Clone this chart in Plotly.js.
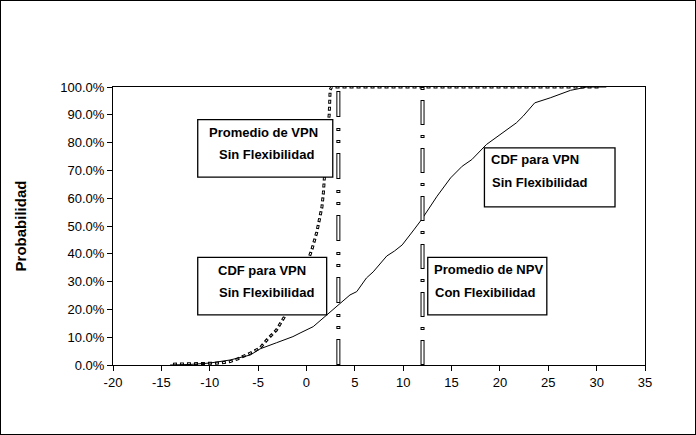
<!DOCTYPE html>
<html>
<head>
<meta charset="utf-8">
<script src="https://cdn.plot.ly/plotly-3.0.1.min.js"></script>
<style>
  html, body { margin: 0; padding: 0; background: #fff; }
  #wrap { position: relative; width: 696px; height: 435px; }
  #chart { position: absolute; left: 0; top: 0; width: 696px; height: 435px; }
  #frame { position: absolute; left: 0; top: 0; width: 696px; height: 435px;
           box-sizing: border-box; border: 1px solid #000; pointer-events: none; }
</style>
</head>
<body>
<div id="wrap">
  <div id="chart"></div>
  <div id="frame"></div>
</div>
<script>
// Cumulative distribution of VPN without flexibility (dotted curve)
const cdfSinFlexX = [-13.8, -12.0, -10.3, -8.9, -7.9, -7.1, -5.8, -4.8, -4.0, -3.1, -2.3, -1.3, -0.7, 0.0,
                     0.55, 1.07, 1.34, 1.6, 1.75, 1.85, 2.0, 2.2, 2.35, 2.4, 2.45, 2.6, 30.5];
const cdfSinFlexP = [0.003, 0.004, 0.005, 0.007, 0.012, 0.022, 0.043, 0.061, 0.094, 0.126, 0.172, 0.25, 0.30, 0.36,
                     0.414, 0.478, 0.52, 0.568, 0.619, 0.66, 0.75, 0.85, 0.90, 0.943, 0.99, 1.0, 1.0];

// Cumulative distribution of NPV with flexibility (solid curve)
const cdfConFlexX = [-14.1, -12.0, -10.0, -7.9, -5.8, -4.8, -3.1, -1.4, -0.66, 0.7, 2.1, 3.3, 4.5, 5.2, 6.2, 6.9,
                     7.6, 8.3, 9.1, 9.9, 11.1, 11.9, 13.5, 14.9, 16.1, 17.1, 18.6, 20.0, 21.7, 22.4, 23.6, 25.2, 27.3, 29.0, 31.0];
const cdfConFlexP = [0.0, 0.002, 0.007, 0.018, 0.036, 0.058, 0.08, 0.102, 0.115, 0.138, 0.18, 0.216, 0.252, 0.264, 0.313, 0.335,
                     0.365, 0.392, 0.41, 0.432, 0.486, 0.523, 0.607, 0.673, 0.715, 0.739, 0.793, 0.829, 0.871, 0.895, 0.943, 0.961, 0.988, 1.0, 1.0];

// Mean values
const meanVpnSinFlex = 3.3;
const meanNpvConFlex = 12.0;

// Axis ticks
const xTicks = [-20, -15, -10, -5, 0, 5, 10, 15, 20, 25, 30, 35];
const yTicks = [0, 0.1, 0.2, 0.3, 0.4, 0.5, 0.6, 0.7, 0.8, 0.9, 1.0];

// Text boxes: [line 1, line 2]
const boxTexts = [
  ['Promedio de VPN', 'Sin Flexibilidad'],
  ['CDF para VPN', 'Sin Flexibilidad'],
  ['CDF para VPN', 'Sin Flexibilidad'],
  ['Promedio de NPV', 'Con Flexibilidad']
];

const FONT = 'Arial, "Liberation Sans", sans-serif';

// A hollow dashed line: black outer stroke with a white inner stroke on top.
function hollowLine(x, y, outerW, innerW, outerDash, innerDash) {
  return [
    { x: x, y: y, type: 'scatter', mode: 'lines', hoverinfo: 'skip', cliponaxis: false,
      line: { color: '#000', width: outerW, dash: outerDash } },
    { x: x, y: y, type: 'scatter', mode: 'lines', hoverinfo: 'skip', cliponaxis: false,
      line: { color: '#fff', width: innerW, dash: innerDash } }
  ];
}

const traces = [];
// dotted CDF, without flexibility
traces.push(...hollowLine(cdfSinFlexX, cdfSinFlexP, 3, 1, '4px,3px', '0px,1px,2px,4px'));
// solid CDF, with flexibility
traces.push({ x: cdfConFlexX, y: cdfConFlexP, type: 'scatter', mode: 'lines', hoverinfo: 'skip',
  line: { color: '#000', width: 1 } });
// mean lines
traces.push(...hollowLine([meanVpnSinFlex, meanVpnSinFlex], [0, 1], 4, 2,
  '26px,10px,3px,9px,3px,11px', '0px,1px,24px,12px,1px,11px,1px,12px'));
traces.push(...hollowLine([meanNpvConFlex, meanNpvConFlex], [0, 1], 4, 2,
  '25px,10px,3px,10px', '0px,1px,23px,12px,1px,11px'));

// box geometry in axis units: [x0, x1, y0, y1], and line centres [cx1, y1, cx2, y2]
const boxRects = [
  [-11.24, 2.72, 0.676, 0.883],
  [-11.24, 2.09, 0.180, 0.387],
  [18.4, 31.9, 0.569, 0.781],
  [12.54, 24.85, 0.180, 0.387]
];
const boxLines = [
  [-4.44, 0.837, -4.18, 0.757],
  [-4.62, 0.340, -4.15, 0.261],
  [23.67, 0.739, 24.05, 0.656],
  [18.81, 0.342, 18.47, 0.261]
];

const shapes = boxRects.map(r => ({
  type: 'rect', xref: 'x', yref: 'y', x0: r[0], x1: r[1], y0: r[2], y1: r[3],
  layer: 'above', fillcolor: '#fff', line: { color: '#000', width: 1.3 }
}));

const annotations = [];
boxTexts.forEach((t, i) => {
  const p = boxLines[i];
  annotations.push({ x: p[0], y: p[1], xref: 'x', yref: 'y', text: '<b>' + t[0] + '</b>',
    showarrow: false, xanchor: 'center', yanchor: 'middle', font: { family: FONT, size: 13, color: '#000' } });
  annotations.push({ x: p[2], y: p[3], xref: 'x', yref: 'y', text: '<b>' + t[1] + '</b>',
    showarrow: false, xanchor: 'center', yanchor: 'middle', font: { family: FONT, size: 13, color: '#000' } });
});

const layout = {
  width: 696, height: 435,
  margin: { l: 113, r: 51, t: 87, b: 70, pad: 0 },
  paper_bgcolor: '#fff', plot_bgcolor: '#fff',
  showlegend: false,
  font: { family: FONT, size: 13, color: '#000' },
  xaxis: {
    range: [-20, 35], tickvals: xTicks, ticktext: xTicks.map(String),
    showgrid: false, zeroline: false, showline: true, linecolor: '#000', linewidth: 1,
    mirror: true, ticks: 'outside', ticklen: 5, tickcolor: '#000',
    tickfont: { family: FONT, size: 13, color: '#000' }, fixedrange: true
  },
  yaxis: {
    range: [0, 1], tickvals: yTicks, tickformat: '.1%',
    showgrid: false, zeroline: false, showline: true, linecolor: '#000', linewidth: 1,
    mirror: true, ticks: 'outside', ticklen: 5, tickcolor: '#000',
    tickfont: { family: FONT, size: 13, color: '#000' },
    title: { text: '<b>Probabilidad</b>', font: { family: FONT, size: 15, color: '#000' }, standoff: 30 },
    fixedrange: true
  },
  shapes: shapes,
  annotations: annotations
};

Plotly.newPlot('chart', traces, layout, { staticPlot: true, displayModeBar: false });
</script>
</body>
</html>
